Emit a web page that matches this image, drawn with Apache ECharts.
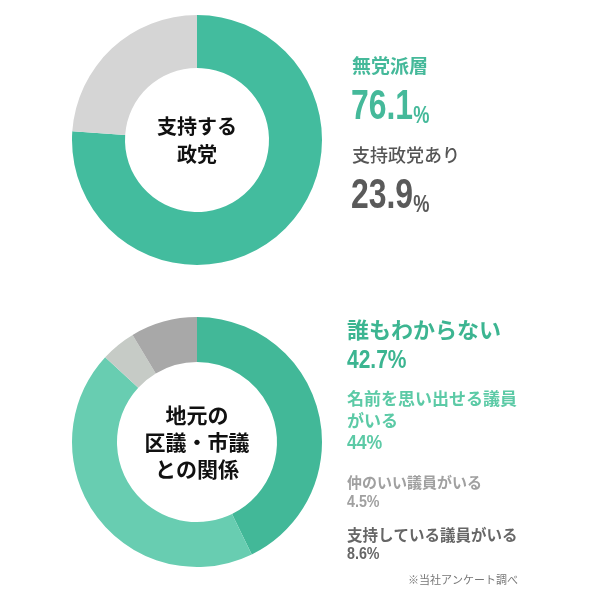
<!DOCTYPE html>
<html>
<head>
<meta charset="utf-8">
<script src="https://cdn.jsdelivr.net/npm/echarts@6/dist/echarts.min.js"></script>
<style>
  html, body { margin: 0; padding: 0; background: #fff; }
  #chart { width: 600px; height: 605px; }
</style>
</head>
<body>
<div id="chart"></div>
<script>
// 支持する政党
var partyNames = ['無党派層', '支持政党あり'];
var partyValues = [76.1, 23.9];
var partyColors = ['#43bc9e', '#d5d5d5'];
var partyTitle = '支持する\n政党';

// 地元の区議・市議との関係
var relNames = ['誰もわからない', '名前を思い出せる議員\nがいる', '仲のいい議員がいる', '支持している議員がいる'];
var relValues = [42.7, 44, 4.5, 8.6];
var relColors = ['#42b898', '#68cdb1', '#c6cbc6', '#a8a8a8'];
var relTitle = '地元の\n区議・市議\nとの関係';

var note = '※当社アンケート調べ';

var jp = '"Noto Sans CJK JP", sans-serif';
var num = '"Liberation Sans", Arial, sans-serif';

var chart = echarts.init(document.getElementById('chart'));

function pieData(names, values, colors) {
    return values.map(function (v, i) {
        return { name: names[i], value: v, itemStyle: { color: colors[i] }, label: { show: i === 0 } };
    });
}

function bigNum(x, y, v, color) {
    return {
        type: 'text', x: x, y: y, scaleX: 0.76,
        style: {
            text: '{n|' + v + '}{p|%}', verticalAlign: 'middle',
            rich: {
                n: { font: 'bold 42px ' + num, fill: color, verticalAlign: 'bottom', lineHeight: 42 },
                p: { font: 'bold 24px ' + num, fill: color, verticalAlign: 'bottom', lineHeight: 39 }
            }
        }
    };
}

function smallNum(x, y, v, size, color) {
    return {
        type: 'text', x: x, y: y, scaleX: 0.84,
        style: { text: v + '%', font: 'bold ' + size + 'px ' + num, fill: color, verticalAlign: 'middle' }
    };
}

function centerLabel(text, size, lh) {
    return {
        show: true,
        position: 'center',
        formatter: function () { return text; },
        color: '#111',
        fontFamily: jp,
        fontWeight: 'bold',
        fontSize: size,
        lineHeight: lh
    };
}

chart.setOption({
    animation: false,
    series: [
        {
            type: 'pie',
            center: [197, 140],
            radius: [72, 125],
            startAngle: 90,
            silent: true,
            label: centerLabel(partyTitle, 20, 28),
            labelLine: { show: false },
            data: pieData(partyNames, partyValues, partyColors)
        },
        {
            type: 'pie',
            center: [197, 442],
            radius: [80, 125],
            startAngle: 90,
            silent: true,
            label: centerLabel(relTitle, 21, 27),
            labelLine: { show: false },
            data: pieData(relNames, relValues, relColors)
        }
    ],
    graphic: [
        // top legend
        { type: 'text', x: 352, y: 66, style: { text: partyNames[0], font: 'bold 19px ' + jp, fill: '#45b99a', verticalAlign: 'middle' } },
        bigNum(351, 107, partyValues[0], '#45b99a'),
        { type: 'text', x: 352, y: 155, style: { text: partyNames[1], font: '500 18px ' + jp, fill: '#555', verticalAlign: 'middle' } },
        bigNum(351, 196, partyValues[1], '#5a5a5a'),
        // bottom legend
        { type: 'text', x: 347, y: 330, style: { text: relNames[0], font: 'bold 22px ' + jp, fill: '#3cb591', verticalAlign: 'middle' } },
        smallNum(347, 361, relValues[0], 25, '#3cb591'),
        { type: 'text', x: 347, y: 410, style: { text: relNames[1], font: 'bold 17px ' + jp, fill: '#5ccaa6', verticalAlign: 'middle', lineHeight: 22 } },
        smallNum(347, 443, relValues[1], 21, '#5ccaa6'),
        { type: 'text', x: 347, y: 482, style: { text: relNames[2], font: 'bold 15px ' + jp, fill: '#a0a0a0', verticalAlign: 'middle' } },
        smallNum(347, 502, relValues[2], 17, '#a0a0a0'),
        { type: 'text', x: 347, y: 535, style: { text: relNames[3], font: 'bold 15.5px ' + jp, fill: '#666', verticalAlign: 'middle' } },
        smallNum(347, 554, relValues[3], 17, '#666'),
        { type: 'text', x: 408, y: 580, style: { text: note, font: '11px ' + jp, fill: '#777', verticalAlign: 'middle' } }
    ]
});
</script>
</body>
</html>
